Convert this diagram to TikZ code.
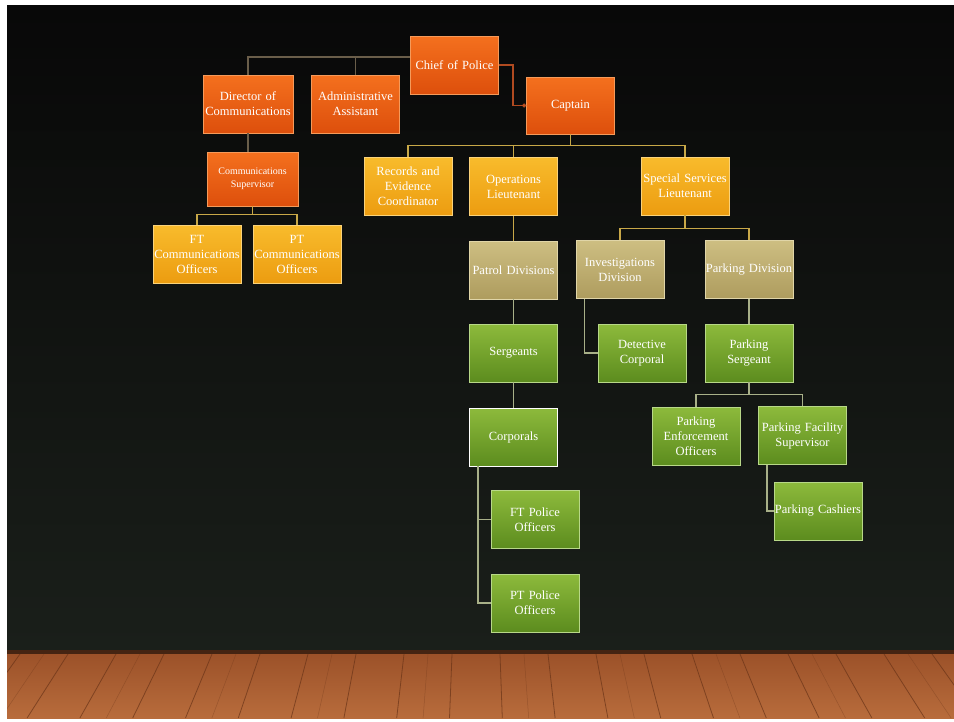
\documentclass[tikz,border=0pt]{standalone}
\usepackage{fontspec}
\setmainfont{Liberation Serif}
\usetikzlibrary{arrows.meta,calc}
\definecolor{orgT}{HTML}{F4701E}
\definecolor{orgB}{HTML}{DD4F0C}
\definecolor{orgD}{HTML}{F59A5A}
\definecolor{yelT}{HTML}{F8BB2C}
\definecolor{yelB}{HTML}{EC9C10}
\definecolor{yelD}{HTML}{FAD27A}
\definecolor{tanT}{HTML}{CDBE82}
\definecolor{tanB}{HTML}{AE9C5E}
\definecolor{tanD}{HTML}{E0D5A8}
\definecolor{grnT}{HTML}{8DBA3C}
\definecolor{grnB}{HTML}{5C8C1E}
\definecolor{grnD}{HTML}{B8D888}
\definecolor{bgT}{HTML}{080808}
\definecolor{bgB}{HTML}{1A1F1A}
\definecolor{woodT}{HTML}{9A5028}
\definecolor{woodB}{HTML}{B86C3C}
\definecolor{plank}{HTML}{6A3418}
\definecolor{lnA}{HTML}{6A5E4A}
\definecolor{lnB}{HTML}{B04A20}
\definecolor{lnC}{HTML}{C8A848}
\definecolor{lnD}{HTML}{A8B088}
\tikzset{
  box/.style={draw, line width=0.9pt, minimum width=88, minimum height=58,
    text width=87, align=center, inner sep=0.5pt, text=white,
    font=\fontsize{12.5}{15}\selectfont},
  orgbox/.style={box, draw=orgD, top color=orgT, bottom color=orgB},
  yelbox/.style={box, draw=yelD, top color=yelT, bottom color=yelB},
  tanbox/.style={box, draw=tanD, top color=tanT, bottom color=tanB},
  grnbox/.style={box, draw=grnD, top color=grnT, bottom color=grnB},
  conA/.style={draw=lnA, line width=1.1pt},
  conB/.style={draw=lnB, line width=1.1pt},
  conC/.style={draw=lnC, line width=1.2pt},
  conD/.style={draw=lnD, line width=1.2pt},
}
\begin{document}
\begin{tikzpicture}[x=1pt,y=-1pt]
\useasboundingbox (0,0) rectangle (954,721);
\fill[white] (0,0) rectangle (954,721);
% stage background
\shade[top color=bgT, bottom color=bgB] (7,5) rectangle (954,650);
% floor
\shade[top color=woodT, bottom color=woodB] (7,650) rectangle (954,718);
\begin{scope}
\clip (7,650) rectangle (954,718);
\foreach \t in {20,68,116,164,212,260,308,356,404,452,500,548,596,644,692,740,788,836,884,932}{
  \draw[plank, line width=0.8pt, opacity=0.7] (\t,654) -- ({477+(\t-477)*1.1},718);
}
\foreach \t in {44,140,236,332,428,524,620,716,812,908}{
  \draw[plank, line width=0.5pt, opacity=0.35] (\t,654) -- ({477+(\t-477)*1.1},718);
}
\fill[black, opacity=0.55] (7,648) rectangle (954,654);
\end{scope}
% nodes
\node[orgbox, minimum width=87] (chief) at (454.5,65) {Chief of Police};
\node[orgbox, minimum width=90] (dir) at (248,104) {Director of\\Communications};
\node[orgbox, minimum width=87] (admin) at (355.5,104) {Administrative\\Assistant};
\node[orgbox, minimum width=87, minimum height=57] (captain) at (570.5,105.5) {Captain};
\node[orgbox, minimum width=91, minimum height=54, font=\fontsize{10}{13}\selectfont] (commsup) at (252.5,179) {Communications\\Supervisor};
\node[yelbox] (ftcomm) at (197,254.5) {FT\\Communications\\Officers};
\node[yelbox] (ptcomm) at (297,254.5) {PT\\Communications\\Officers};
\node[yelbox] (records) at (408,186.5) {Records and\\Evidence\\Coordinator};
\node[yelbox] (opslt) at (513.5,186.5) {Operations\\Lieutenant};
\node[yelbox] (special) at (685,186) {Special Services\\Lieutenant};
\node[tanbox] (patrol) at (513.5,270) {Patrol Divisions};
\node[tanbox] (invest) at (620,269.5) {Investigations\\Division};
\node[tanbox] (parkdiv) at (749,269.5) {Parking Division};
\node[grnbox] (serg) at (513.5,353) {Sergeants};
\node[grnbox] (detect) at (642,353) {Detective\\Corporal};
\node[grnbox] (parkserg) at (749,353) {Parking\\Sergeant};
\node[grnbox, draw=white] (corp) at (513.5,437) {Corporals};
\node[grnbox] (parkenf) at (696,436) {Parking\\Enforcement\\Officers};
\node[grnbox] (parkfac) at (802.5,435.5) {Parking Facility\\Supervisor};
\node[grnbox] (cashiers) at (818,511) {Parking Cashiers};
\node[grnbox] (ftpol) at (535,519.5) {FT Police\\Officers};
\node[grnbox] (ptpol) at (535,603) {PT Police\\Officers};
% connectors
\draw[conA] (dir.north) |- ($(chief.west)+(0,-8)$);
\draw[conA] (admin.north) -- ++(0,-18);
\draw[conB, -{Circle[length=4pt,fill=orgT]}] (chief.east) -- ++(14,0) |- (captain.west);
\draw[conA] (dir.south) -- (dir.south |- commsup.north);
\draw[conC] (commsup.south) -- ++(0,8) -| (ftcomm.north);
\draw[conC] (commsup.south) ++(0,8) -| (ptcomm.north);
\draw[conC] (captain.south) -- ++(0,11) -| (records.north);
\draw[conC] (captain.south) ++(0,11) -| (opslt.north);
\draw[conC] (captain.south) ++(0,11) -| (special.north);
\draw[conC] (opslt.south) -- (patrol.north);
\draw[conC] (special.south) -- ++(0,13) -| (invest.north);
\draw[conC] (special.south) ++(0,13) -| (parkdiv.north);
\draw[conD] (patrol.south) -- (serg.north);
\draw[conD] ($(invest.south west)+(9,0)$) |- (detect.west);
\draw[conD] (parkdiv.south) -- (parkserg.north);
\draw[conD] (serg.south) -- (corp.north);
\draw[conD] (parkserg.south) -- ++(0,12) -| (parkenf.north);
\draw[conD] (parkserg.south) ++(0,12) -| (parkfac.north);
\draw[conD] ($(corp.south west)+(9,0)$) |- (ftpol.west);
\draw[conD] ($(corp.south west)+(9,0)$) |- (ptpol.west);
\draw[conD] ($(parkfac.south west)+(9,0)$) |- (cashiers.west);
\end{tikzpicture}
\end{document}
